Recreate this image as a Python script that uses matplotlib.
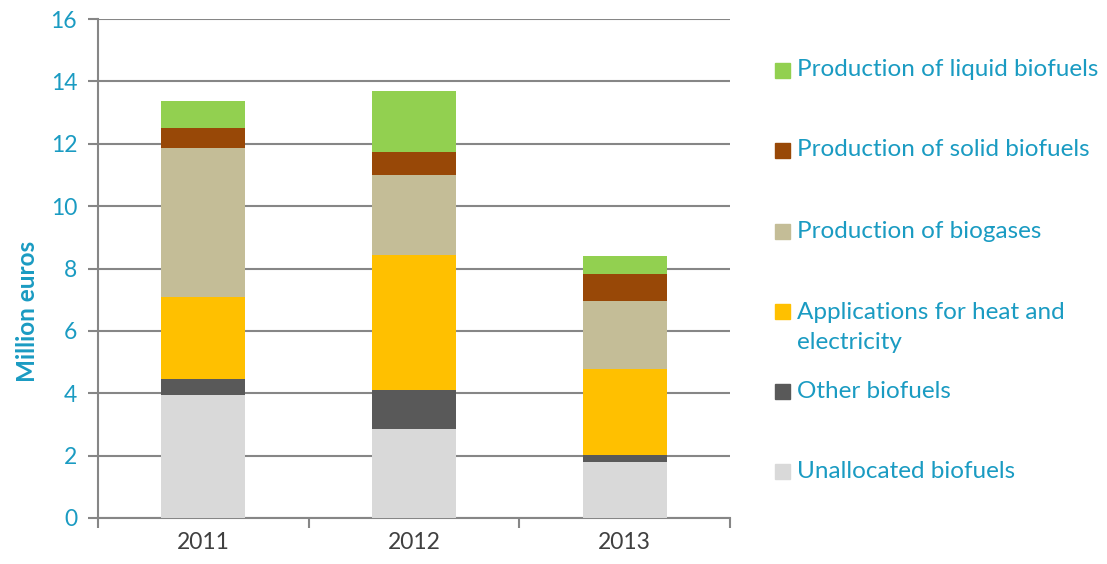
import matplotlib.pyplot as plt
from matplotlib.patches import Rectangle
import numpy as np

# Biofuels R&D spending by area, 2011-2013

years = ["2011", "2012", "2013"]
series_names = [
    "Unallocated biofuels",
    "Other biofuels",
    "Applications for heat and\nelectricity",
    "Production of biogases",
    "Production of solid biofuels",
    "Production of liquid biofuels",
]
unallocated = [3.95, 2.84, 1.81]
other = [0.52, 1.25, 0.20]
heat_elec = [2.62, 4.33, 2.76]
biogases = [4.76, 2.59, 2.19]
solid = [0.64, 0.72, 0.85]
liquid = [0.89, 1.97, 0.60]
colors = ["#d9d9d9", "#595959", "#ffc000", "#c4bd97", "#984807", "#92d050"]

teal = "#1a9bc2"
grey = "#868686"

plt.rcParams["font.family"] = ["Lato", "DejaVu Sans"]

fig = plt.figure(figsize=(11.07, 5.64), dpi=100)
ax = fig.add_axes([98 / 1107, 46 / 564, 632 / 1107, 499 / 564])

x = np.arange(len(years))
bottom = np.zeros(len(years))
for vals, c in zip([unallocated, other, heat_elec, biogases, solid, liquid], colors):
    ax.bar(x, vals, width=0.4, bottom=bottom, color=c, zorder=3)
    bottom += np.array(vals)

ax.set_xlim(-0.5, 2.5)
ax.set_ylim(0, 16)
ax.set_yticks(range(0, 17, 2))
ax.yaxis.grid(True, color=grey, linewidth=1.5, zorder=0)
ax.set_axisbelow(True)

for s in ["top", "right"]:
    ax.spines[s].set_visible(False)
ax.spines["left"].set_color(grey)
ax.spines["left"].set_linewidth(1.5)
ax.spines["bottom"].set_color(grey)
ax.spines["bottom"].set_linewidth(1.5)

ax.tick_params(axis="y", colors=grey, length=7, width=1.5, labelcolor=teal,
               labelsize=16.5, pad=8)
ax.set_xticks(x)
ax.set_xticklabels(years)
ax.tick_params(axis="x", which="major", length=0, labelsize=16.5,
               labelcolor="#404040", pad=10)
ax.set_xticks([-0.5, 0.5, 1.5, 2.5], minor=True)
ax.tick_params(axis="x", which="minor", length=7, width=1.5, colors=grey)

ax.set_ylabel("Million euros", color=teal, fontsize=17.5, fontweight="bold")
ax.yaxis.set_label_coords(-0.094, 0.413)

# legend drawn by hand, top item first
legend_y = [70, 150, 231, 311, 391, 471]
order = list(range(len(series_names)))[::-1]
for yy, i in zip(legend_y, order):
    yf = 1 - yy / 564
    fig.add_artist(Rectangle((775 / 1107, yf - 7.5 / 564), 15 / 1107, 15 / 564,
                             color=colors[i], transform=fig.transFigure))
    label = series_names[i]
    if "\n" in label:
        # two line label: first line level with the square
        fig.text(797 / 1107, yf - 16.5 / 564, label, color=teal, fontsize=17.5,
                 va="center", linespacing=1.5)
    else:
        fig.text(797 / 1107, yf, label, color=teal, fontsize=17.5, va="center")

fig.savefig("out.png", dpi=100)
